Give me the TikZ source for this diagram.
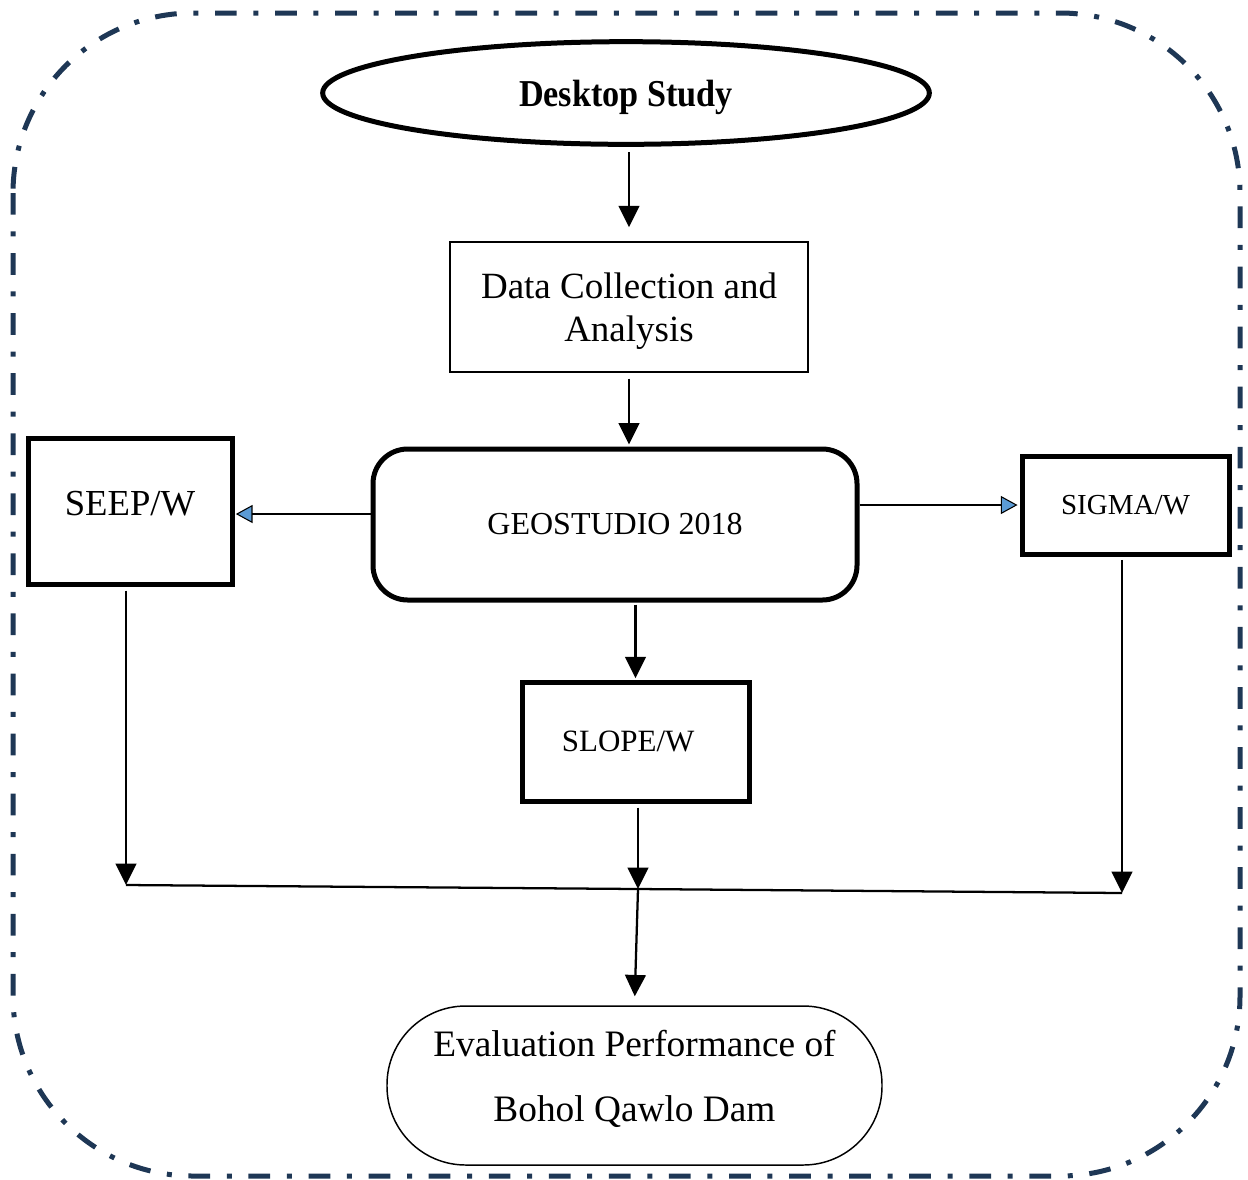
\documentclass[tikz,border=0pt]{standalone}
\usepackage{fontspec}
\usepackage{graphicx}
\setmainfont{Liberation Serif}
\usetikzlibrary{arrows.meta,shapes.geometric}
\definecolor{navy}{RGB}{30,55,85}
\definecolor{tipblue}{RGB}{91,155,213}
\begin{document}
\begin{tikzpicture}[x=0.75pt,y=-0.75pt,
  thickbox/.style={draw, line width=3.75pt, inner sep=0pt},
  thinbox/.style={draw, line width=1.1pt, inner sep=0pt},
  conn/.style={line width=1.7pt},
  arr/.style={conn, -{Triangle[length=16pt,width=15.5pt]}},
  barr/.style={conn, -{Triangle[length=12.5pt,width=13.5pt,fill=tipblue,line width=0.8pt]}},
]
\useasboundingbox (0,0) rectangle (1248,1179);
% outer dash-dot frame
\draw[navy, line width=3.75pt, dash pattern=on 16.3pt off 12.5pt on 3.75pt off 12.5pt, rounded corners=135pt]
  (13,13) rectangle (1240,1176);

% nodes
\node[ellipse, draw, line width=3.75pt, minimum width=455pt, minimum height=77pt, inner sep=0pt, text depth=0pt]
  (desk) at (626,93) {\fontsize{28.5pt}{30pt}\selectfont\bfseries\scalebox{0.9}[1]{Desktop Study}};
\node[thinbox, minimum width=268.5pt, minimum height=97.5pt, align=center, text depth=0pt,
  font=\fontsize{27.75pt}{32.25pt}\selectfont]
  (data) at (629,307) {Data Collection and\\Analysis};
\node[thickbox, rounded corners=26pt, minimum width=363pt, minimum height=113.25pt,
  font=\fontsize{24pt}{28pt}\selectfont]
  (geo) at (615,524.5) {GEOSTUDIO 2018};
\node[thickbox, minimum width=153pt, minimum height=109.5pt, font=\fontsize{27.5pt}{30pt}\selectfont]
  (seep) at (130,511) {\raisebox{12pt}{SEEP/W}};
\node[thickbox, minimum width=155.25pt, minimum height=73.5pt, font=\fontsize{21.75pt}{24pt}\selectfont]
  (sigma) at (1125.5,505) {SIGMA/W};
\node[thickbox, minimum width=170.25pt, minimum height=89.25pt, font=\fontsize{23.25pt}{26pt}\selectfont]
  (slope) at (635.5,741.5) {\hspace*{-11pt}SLOPE/W};
\node[thinbox, rounded corners=59pt, minimum width=371.25pt, minimum height=119.25pt, align=center,
  text depth=15pt, font=\fontsize{28pt}{48.75pt}\selectfont]
  (eval) at (634.5,1085.5) {Evaluation Performance of\\Bohol Qawlo Dam};

% junction coordinates
\coordinate (jl) at (126,885);
\coordinate (jm) at (638,889);
\coordinate (jr) at (1122,893);

% connectors
\draw[arr, shorten <=4pt, shorten >=10.5pt] (desk.south -| data.north) -- (data.north);
\draw[arr, shorten <=4.5pt, shorten >=1.5pt] (data.south) -- (data.south |- geo.north);
\draw[barr, shorten >=1pt] (geo.west |- 0,514) -- (seep.east |- 0,514);
\draw[barr, shorten >=1.5pt] (geo.east |- sigma.west) -- (sigma.west);
\draw[arr, shorten <=1.5pt, shorten >=1pt] (geo.south -| slope.north) -- (slope.north);
\draw[arr, shorten <=3pt] (seep.south -| jl) -- (jl);
\draw[arr, shorten <=2.5pt] (sigma.south -| jr) -- (jr);
\draw[arr, shorten <=3pt] (slope.south -| jm) -- (jm);
\draw[conn] (jl) -- (jm) -- (jr);
\draw[arr, shorten >=6.75pt] (jm) -- (eval.north);
\end{tikzpicture}
\end{document}
